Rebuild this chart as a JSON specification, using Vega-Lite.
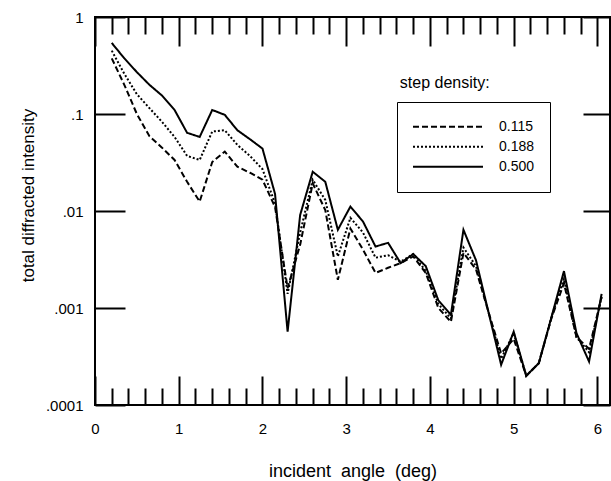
{
  "$schema": "https://vega.github.io/schema/vega-lite/v6.json",
  "width": 515,
  "height": 388,
  "autosize": {"type": "none"},
  "padding": {"left": 95, "top": 17, "right": 1, "bottom": 76},
  "background": "white",
  "config": {
    "view": {"stroke": "black", "strokeWidth": 2},
    "font": "Liberation Sans",
    "axis": {"domain": false, "grid": false, "tickColor": "black", "tickWidth": 2, "labelColor": "black", "titleColor": "black", "titleFontWeight": "normal", "labelFont": "Liberation Sans", "titleFont": "Liberation Sans"}
  },
  "datasets": {
    "curves": [
      {"x": 0.2, "density": "0.500", "v": 0.54},
      {"x": 0.35, "density": "0.500", "v": 0.375},
      {"x": 0.5, "density": "0.500", "v": 0.27},
      {"x": 0.65, "density": "0.500", "v": 0.2},
      {"x": 0.8, "density": "0.500", "v": 0.155},
      {"x": 0.95, "density": "0.500", "v": 0.11},
      {"x": 1.1, "density": "0.500", "v": 0.064},
      {"x": 1.25, "density": "0.500", "v": 0.058},
      {"x": 1.4, "density": "0.500", "v": 0.11},
      {"x": 1.55, "density": "0.500", "v": 0.098},
      {"x": 1.7, "density": "0.500", "v": 0.068},
      {"x": 1.85, "density": "0.500", "v": 0.055},
      {"x": 2.0, "density": "0.500", "v": 0.044},
      {"x": 2.15, "density": "0.500", "v": 0.015},
      {"x": 2.3, "density": "0.500", "v": 0.00057},
      {"x": 2.45, "density": "0.500", "v": 0.0091},
      {"x": 2.6, "density": "0.500", "v": 0.0254},
      {"x": 2.75, "density": "0.500", "v": 0.02},
      {"x": 2.9, "density": "0.500", "v": 0.0064},
      {"x": 3.05, "density": "0.500", "v": 0.0111},
      {"x": 3.2, "density": "0.500", "v": 0.0078},
      {"x": 3.35, "density": "0.500", "v": 0.0043},
      {"x": 3.5, "density": "0.500", "v": 0.0047},
      {"x": 3.65, "density": "0.500", "v": 0.0029},
      {"x": 3.8, "density": "0.500", "v": 0.0036},
      {"x": 3.95, "density": "0.500", "v": 0.0027},
      {"x": 4.1, "density": "0.500", "v": 0.0012},
      {"x": 4.25, "density": "0.500", "v": 0.00085},
      {"x": 4.4, "density": "0.500", "v": 0.0064},
      {"x": 4.55, "density": "0.500", "v": 0.0031},
      {"x": 4.7, "density": "0.500", "v": 0.0009},
      {"x": 4.85, "density": "0.500", "v": 0.00026},
      {"x": 5.0, "density": "0.500", "v": 0.00057},
      {"x": 5.15, "density": "0.500", "v": 0.0002},
      {"x": 5.3, "density": "0.500", "v": 0.00027},
      {"x": 5.45, "density": "0.500", "v": 0.0008},
      {"x": 5.6, "density": "0.500", "v": 0.0024},
      {"x": 5.75, "density": "0.500", "v": 0.00055},
      {"x": 5.9, "density": "0.500", "v": 0.00028},
      {"x": 6.05, "density": "0.500", "v": 0.0014},
      {"x": 0.2, "density": "0.188", "v": 0.45},
      {"x": 0.35, "density": "0.188", "v": 0.26},
      {"x": 0.5, "density": "0.188", "v": 0.16},
      {"x": 0.65, "density": "0.188", "v": 0.115},
      {"x": 0.8, "density": "0.188", "v": 0.083},
      {"x": 0.95, "density": "0.188", "v": 0.058},
      {"x": 1.1, "density": "0.188", "v": 0.037},
      {"x": 1.25, "density": "0.188", "v": 0.0336},
      {"x": 1.4, "density": "0.188", "v": 0.066},
      {"x": 1.55, "density": "0.188", "v": 0.068},
      {"x": 1.7, "density": "0.188", "v": 0.048},
      {"x": 1.85, "density": "0.188", "v": 0.037},
      {"x": 2.0, "density": "0.188", "v": 0.027},
      {"x": 2.15, "density": "0.188", "v": 0.012},
      {"x": 2.3, "density": "0.188", "v": 0.0014},
      {"x": 2.45, "density": "0.188", "v": 0.006},
      {"x": 2.6, "density": "0.188", "v": 0.021},
      {"x": 2.75, "density": "0.188", "v": 0.013},
      {"x": 2.9, "density": "0.188", "v": 0.0034},
      {"x": 3.05, "density": "0.188", "v": 0.0085},
      {"x": 3.2, "density": "0.188", "v": 0.006},
      {"x": 3.35, "density": "0.188", "v": 0.0033},
      {"x": 3.5, "density": "0.188", "v": 0.0035},
      {"x": 3.65, "density": "0.188", "v": 0.003},
      {"x": 3.8, "density": "0.188", "v": 0.0036},
      {"x": 3.95, "density": "0.188", "v": 0.0024},
      {"x": 4.1, "density": "0.188", "v": 0.0011},
      {"x": 4.25, "density": "0.188", "v": 0.00078},
      {"x": 4.4, "density": "0.188", "v": 0.0042},
      {"x": 4.55, "density": "0.188", "v": 0.0027},
      {"x": 4.7, "density": "0.188", "v": 0.0009},
      {"x": 4.85, "density": "0.188", "v": 0.0003},
      {"x": 5.0, "density": "0.188", "v": 0.00055},
      {"x": 5.15, "density": "0.188", "v": 0.0002},
      {"x": 5.3, "density": "0.188", "v": 0.00027},
      {"x": 5.45, "density": "0.188", "v": 0.0008},
      {"x": 5.6, "density": "0.188", "v": 0.002},
      {"x": 5.75, "density": "0.188", "v": 0.0005},
      {"x": 5.9, "density": "0.188", "v": 0.00035},
      {"x": 6.05, "density": "0.188", "v": 0.0013},
      {"x": 0.2, "density": "0.115", "v": 0.375},
      {"x": 0.35, "density": "0.115", "v": 0.2},
      {"x": 0.5, "density": "0.115", "v": 0.1},
      {"x": 0.65, "density": "0.115", "v": 0.059},
      {"x": 0.8, "density": "0.115", "v": 0.045},
      {"x": 0.95, "density": "0.115", "v": 0.0336},
      {"x": 1.1, "density": "0.115", "v": 0.02},
      {"x": 1.25, "density": "0.115", "v": 0.0125},
      {"x": 1.4, "density": "0.115", "v": 0.032},
      {"x": 1.55, "density": "0.115", "v": 0.041},
      {"x": 1.7, "density": "0.115", "v": 0.0286},
      {"x": 1.85, "density": "0.115", "v": 0.0248},
      {"x": 2.0, "density": "0.115", "v": 0.021},
      {"x": 2.15, "density": "0.115", "v": 0.011},
      {"x": 2.3, "density": "0.115", "v": 0.0016},
      {"x": 2.45, "density": "0.115", "v": 0.0045},
      {"x": 2.6, "density": "0.115", "v": 0.0193},
      {"x": 2.75, "density": "0.115", "v": 0.0102},
      {"x": 2.9, "density": "0.115", "v": 0.00195},
      {"x": 3.05, "density": "0.115", "v": 0.0066},
      {"x": 3.2, "density": "0.115", "v": 0.004},
      {"x": 3.35, "density": "0.115", "v": 0.0023},
      {"x": 3.5, "density": "0.115", "v": 0.0026},
      {"x": 3.65, "density": "0.115", "v": 0.0029},
      {"x": 3.8, "density": "0.115", "v": 0.0034},
      {"x": 3.95, "density": "0.115", "v": 0.0023},
      {"x": 4.1, "density": "0.115", "v": 0.001},
      {"x": 4.25, "density": "0.115", "v": 0.00072},
      {"x": 4.4, "density": "0.115", "v": 0.0037},
      {"x": 4.55, "density": "0.115", "v": 0.0025},
      {"x": 4.7, "density": "0.115", "v": 0.0009},
      {"x": 4.85, "density": "0.115", "v": 0.00034},
      {"x": 5.0, "density": "0.115", "v": 0.00048},
      {"x": 5.15, "density": "0.115", "v": 0.0002},
      {"x": 5.3, "density": "0.115", "v": 0.00027},
      {"x": 5.45, "density": "0.115", "v": 0.00078},
      {"x": 5.6, "density": "0.115", "v": 0.0018},
      {"x": 5.75, "density": "0.115", "v": 0.0005},
      {"x": 5.9, "density": "0.115", "v": 0.00038},
      {"x": 6.05, "density": "0.115", "v": 0.0013}
    ],
    "note": [{"x": 3.64, "v": 0.209, "text": "step density:"}]
  },
  "layer": [
    {
      "data": {"name": "curves"},
      "mark": {"type": "line", "color": "black", "strokeWidth": 2},
      "encoding": {
        "x": {
          "field": "x", "type": "quantitative",
          "scale": {"domain": [0, 6.15], "nice": false, "zero": false},
          "axis": {
            "orient": "bottom",
            "values": [0,0.2,0.4,0.6,0.8,1,1.2,1.4,1.6,1.8,2,2.2,2.4,2.6,2.8,3,3.2,3.4,3.6,3.8,4,4.2,4.4,4.6,4.8,5,5.2,5.4,5.6,5.8,6],
            "tickSize": {"condition": {"test": "datum.value % 1 === 0", "value": -29}, "value": -17},
            "labelExpr": "datum.value % 1 === 0 ? format(datum.value, 'd') : ''",
            "labelPadding": 45,
            "labelFontSize": 15,
            "labelFlush": false,
            "labelOverlap": false,
            "title": "incident\u00a0 angle\u00a0 (deg)",
            "titleFontSize": 18,
            "titleY": 66,
            "titleBaseline": "middle"
          }
        },
        "y": {
          "field": "v", "type": "quantitative",
          "scale": {"type": "log", "domain": [0.0001, 1], "nice": false},
          "axis": {
            "orient": "left",
            "values": [0.0001, 0.001, 0.01, 0.1, 1],
            "tickSize": -30,
            "labelPadding": 42,
            "labelFontSize": 15,
            "labelExpr": "datum.value >= 1 ? '1' : datum.value >= 0.1 ? '.1' : datum.value >= 0.01 ? '.01' : datum.value >= 0.001 ? '.001' : '.0001'",
            "title": "total diffracted intensity",
            "titleFontSize": 17,
            "titleX": -67,
            "titleY": 178,
            "titleAngle": -90,
            "titleAlign": "center",
            "titleBaseline": "middle"
          }
        },
        "strokeDash": {
          "field": "density", "type": "nominal",
          "scale": {"domain": ["0.115", "0.188", "0.500"], "range": [[6, 3], [2, 2], [1, 0]]},
          "legend": {
            "orient": "none",
            "legendX": 302,
            "legendY": 85,
            "title": null,
            "symbolType": "stroke",
            "symbolSize": 4900,
            "symbolStrokeWidth": 2,
            "symbolStrokeColor": "black",
            "clipHeight": 19.5,
            "rowPadding": 0,
            "labelFontSize": 14,
            "labelFont": "Liberation Sans",
            "labelColor": "black",
            "labelOffset": 15,
            "padding": 15,
            "strokeColor": "black",
            "cornerRadius": 0
          }
        }
      }
    },
    {
      "data": {"name": "note"},
      "mark": {"type": "text", "align": "left", "baseline": "middle", "fontSize": 16, "font": "Liberation Sans", "color": "black"},
      "encoding": {
        "x": {
          "field": "x", "type": "quantitative",
          "scale": {"domain": [0, 6.15], "nice": false, "zero": false},
          "axis": {
            "orient": "top",
            "values": [0,0.2,0.4,0.6,0.8,1,1.2,1.4,1.6,1.8,2,2.2,2.4,2.6,2.8,3,3.2,3.4,3.6,3.8,4,4.2,4.4,4.6,4.8,5,5.2,5.4,5.6,5.8,6],
            "tickSize": {"condition": {"test": "datum.value % 1 === 0", "value": -29}, "value": -17},
            "labels": false,
            "title": null
          }
        },
        "y": {
          "field": "v", "type": "quantitative",
          "scale": {"type": "log", "domain": [0.0001, 1], "nice": false},
          "axis": {
            "orient": "right",
            "values": [0.0001, 0.001, 0.01, 0.1, 1],
            "tickSize": -27,
            "labels": false,
            "title": null
          }
        },
        "text": {"field": "text"}
      }
    }
  ],
  "resolve": {"axis": {"x": "independent", "y": "independent"}}
}
